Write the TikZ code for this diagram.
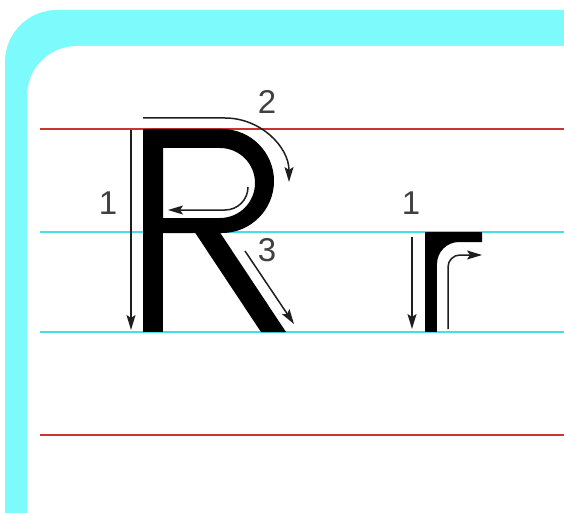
\documentclass[tikz,border=0pt]{standalone}
\usepackage{fontspec}
\setmainfont{Liberation Sans}
\usetikzlibrary{arrows.meta}
\definecolor{band}{RGB}{125,250,252}
\definecolor{redline}{RGB}{205,50,50}
\definecolor{cyanline}{RGB}{70,222,232}
\definecolor{ink}{RGB}{30,30,30}
\begin{document}
\begin{tikzpicture}[x=1pt,y=-1pt,
  guide/.style={line width=2.5pt},
  stroke/.style={draw=ink, line width=1.5pt, -{Stealth[length=15pt,width=9pt,inset=3pt]}},
  digit/.style={font=\fontsize{33}{33}\selectfont, text=ink!85, inner sep=0pt}]
\clip (0,0) rectangle (564,513);
\fill[white] (0,0) rectangle (564,513);
% frame
\fill[band, rounded corners=52pt] (5,10) rectangle (640,620);
\fill[white, rounded corners=50pt] (27,46) rectangle (640,620);
% guide lines
\draw[guide, redline] (40,129) -- (564,129);
\draw[guide, cyanline] (40,232) -- (564,232);
\draw[guide, cyanline] (40,332) -- (564,332);
\draw[guide, redline] (40,435) -- (564,435);
% letter R
\fill[black] (143,129) rectangle (163,332);
\fill[black, even odd rule] (150,129) -- (222,129) arc[start angle=-90, end angle=90, radius=52] -- (150,233) -- cycle
  (163,148) -- (220,148) arc[start angle=-90, end angle=90, radius=35] -- (163,218) -- cycle;
\fill[black] (188,222) -- (213,222) -- (286,332) -- (261,332) -- cycle;
% letter r
\fill[black] (425,232) rectangle (437,332);
\fill[black] (436,232) -- (482,232) -- (482,242) -- (459,242) arc[start angle=-90, end angle=-180, radius=22] -- (436,264) -- cycle;
% stroke arrows for R
\coordinate (ra1) at (131,130);
\coordinate (rb1) at (131,330);
\draw[stroke] (ra1) -- (rb1);
\coordinate (ra2) at (143,118);
\draw[stroke] (ra2) -- (225,118) arc[start angle=-90, end angle=0, radius=64];
\coordinate (ra2b) at (248,187);
\draw[stroke] (ra2b) arc[start angle=0, end angle=90, radius=23] -- (168,210);
\coordinate (ra3) at (245,251);
\coordinate (rb3) at (294,324);
\draw[stroke] (ra3) -- (rb3);
% stroke arrows for r
\coordinate (sa1) at (412,237);
\coordinate (sb1) at (412,329);
\draw[stroke] (sa1) -- (sb1);
\coordinate (sa2) at (448,329);
\draw[stroke] (sa2) -- (448,267) arc[start angle=180, end angle=270, radius=12] -- (482,255);
% numbers
\node[digit] (n1) at (108,203) {1};
\node[digit] (n2) at (267,102) {2};
\node[digit] (n3) at (267,250) {3};
\node[digit] (m1) at (411,203) {1};
\end{tikzpicture}
\end{document}
